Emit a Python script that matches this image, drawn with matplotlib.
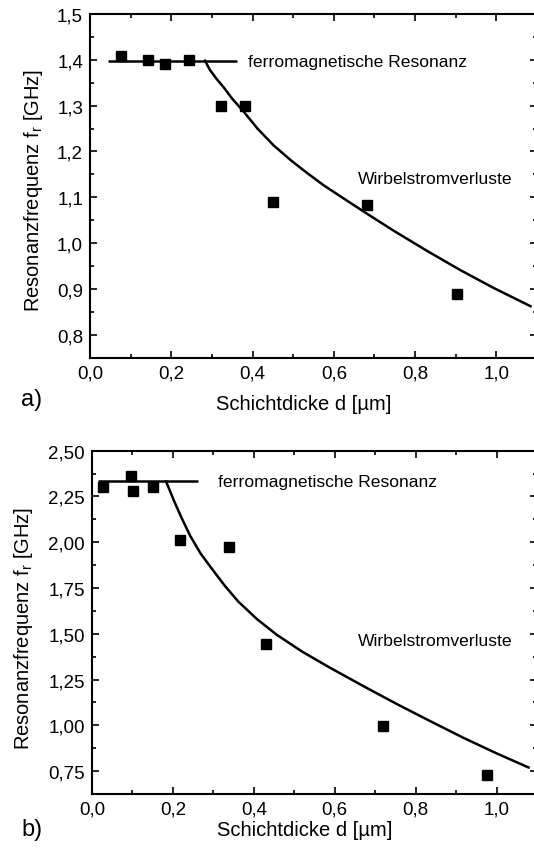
import matplotlib
matplotlib.use("Agg")
import matplotlib.pyplot as plt
from matplotlib.ticker import FixedLocator, FixedFormatter, MultipleLocator

plt.rcParams['font.family'] = ['Liberation Sans', 'DejaVu Sans']
plt.rcParams['mathtext.fontset'] = 'custom'
plt.rcParams['mathtext.rm'] = 'Liberation Sans'

# --- Panel a) measured resonance frequencies ---
a_d = [0.077, 0.142, 0.185, 0.243, 0.322, 0.381, 0.451, 0.682, 0.903]
a_f = [1.408, 1.400, 1.391, 1.400, 1.300, 1.299, 1.090, 1.082, 0.888]
# ferromagnetic resonance level (horizontal line)
a_fmr_d = [0.045, 0.361]
a_fmr_f = [1.397, 1.397]
# eddy-current model curve
a_ec_d = [0.283, 0.295, 0.310, 0.328, 0.350, 0.378, 0.412, 0.452, 0.495, 0.534,
          0.575, 0.616, 0.685, 0.747, 0.829, 0.911, 0.993, 1.084]
a_ec_f = [1.398, 1.378, 1.360, 1.341, 1.315, 1.287, 1.250, 1.213, 1.180, 1.153,
          1.126, 1.102, 1.062, 1.027, 0.983, 0.941, 0.902, 0.862]
a_yticks = [0.8, 0.9, 1.0, 1.1, 1.2, 1.3, 1.4, 1.5]
a_ylabels = ['0,8', '0,9', '1,0', '1,1', '1,2', '1,3', '1,4', '1,5']

# --- Panel b) measured resonance frequencies ---
b_d = [0.028, 0.096, 0.101, 0.152, 0.218, 0.339, 0.429, 0.720, 0.977]
b_f = [2.304, 2.364, 2.282, 2.304, 2.014, 1.974, 1.446, 0.995, 0.729]
b_fmr_d = [0.016, 0.263]
b_fmr_f = [2.332, 2.332]
b_ec_d = [0.183, 0.192, 0.203, 0.220, 0.242, 0.268, 0.296, 0.328, 0.362, 0.408,
          0.457, 0.520, 0.584, 0.671, 0.753, 0.836, 0.918, 1.000, 1.079]
b_ec_f = [2.332, 2.284, 2.225, 2.140, 2.038, 1.940, 1.856, 1.763, 1.675, 1.580,
          1.494, 1.402, 1.320, 1.214, 1.117, 1.023, 0.932, 0.847, 0.770]
b_yticks = [0.75, 1.00, 1.25, 1.50, 1.75, 2.00, 2.25, 2.50]
b_ylabels = ['0,75', '1,00', '1,25', '1,50', '1,75', '2,00', '2,25', '2,50']

x_ticks = [0.0, 0.2, 0.4, 0.6, 0.8, 1.0]
x_labels = ['0,0', '0,2', '0,4', '0,6', '0,8', '1,0']

W, H = 534, 854
fig = plt.figure(figsize=(W / 100, H / 100), dpi=100)


def px_axes(left, top, right, bottom):
    return fig.add_axes([left / W, 1 - bottom / H, (right - left) / W, (bottom - top) / H])


def style(ax, ylim, yticks, ylabels, yminor, xlab_y, ylab_x, ylab_y):
    ax.set_xlim(0, 1.1)
    ax.set_ylim(*ylim)
    ax.xaxis.set_major_locator(FixedLocator(x_ticks))
    ax.xaxis.set_major_formatter(FixedFormatter(x_labels))
    ax.xaxis.set_minor_locator(MultipleLocator(0.1))
    ax.yaxis.set_major_locator(FixedLocator(yticks))
    ax.yaxis.set_major_formatter(FixedFormatter(ylabels))
    ax.yaxis.set_minor_locator(MultipleLocator(yminor))
    for s in ax.spines.values():
        s.set_linewidth(1.5)
    ax.tick_params(which='both', direction='in', top=True, right=True,
                   labelsize=13.5, width=1.2, pad=5)
    ax.tick_params(which='major', length=5)
    ax.tick_params(which='minor', length=3)
    ax.set_xlabel('Schichtdicke d [µm]', fontsize=14.5, va='center')
    ax.xaxis.set_label_coords(0.477, xlab_y)
    ax.set_ylabel('Resonanzfrequenz f$_\\mathregular{r}$ [GHz]', fontsize=14.5, va='center')
    ax.yaxis.set_label_coords(ylab_x, ylab_y)


# Panel a
ax1 = px_axes(90, 15, 537, 358.5)
ax1.plot(a_fmr_d, a_fmr_f, color='black', lw=1.8, solid_capstyle='butt')
ax1.plot(a_ec_d, a_ec_f, color='black', lw=1.8)
ax1.plot(a_d, a_f, 's', color='black', ms=6.5, ls='none')
style(ax1, (0.75, 1.5), a_yticks, a_ylabels, 0.05, -0.135, -0.1275, 0.49)
ax1.text(0.39, 1.397, 'ferromagnetische Resonanz', fontsize=12.6, va='center', ha='left')
ax1.text(0.659, 1.14, 'Wirbelstromverluste', fontsize=12.6, va='center', ha='left')
fig.text(21 / W, 1 - 400 / H, 'a)', fontsize=17, va='center', ha='left')

# Panel b
ax2 = px_axes(92, 451.7, 537, 795)
ax2.plot(b_fmr_d, b_fmr_f, color='black', lw=1.8, solid_capstyle='butt')
ax2.plot(b_ec_d, b_ec_f, color='black', lw=1.8)
ax2.plot(b_d, b_f, 's', color='black', ms=6.5, ls='none')
style(ax2, (0.625, 2.5), b_yticks, b_ylabels, 0.125, -0.102, -0.154, 0.486)
ax2.text(0.311, 2.332, 'ferromagnetische Resonanz', fontsize=12.6, va='center', ha='left')
ax2.text(0.657, 1.466, 'Wirbelstromverluste', fontsize=12.6, va='center', ha='left')
fig.text(21 / W, 1 - 830 / H, 'b)', fontsize=17, va='center', ha='left')

fig.savefig('out.png', dpi=100)
